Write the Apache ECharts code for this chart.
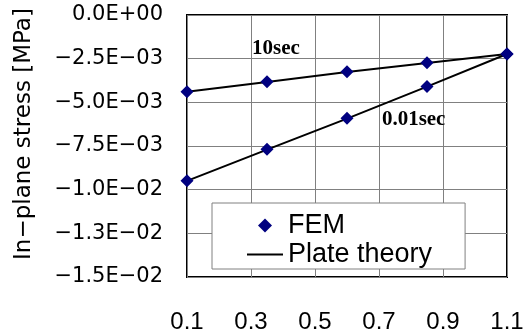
<!DOCTYPE html>
<html>
<head>
<meta charset="utf-8">
<script src="https://cdn.jsdelivr.net/npm/echarts@6/dist/echarts.min.js"></script>
<style>
html,body{margin:0;padding:0;background:#fff;}
#chart{width:527px;height:334px;}
</style>
</head>
<body>
<div id="chart"></div>
<script>
// ---- data ----
const xValues = [0.1, 0.35, 0.6, 0.85, 1.1];
const fem10sec = [-0.00439, -0.00382, -0.00325, -0.00273, -0.00223];
const fem001sec = [-0.00949, -0.00769, -0.00591, -0.00410, -0.00223];
const plate10sec = [-0.00440, -0.00383, -0.00326, -0.00275, -0.00223];
const plate001sec = [-0.00950, -0.00771, -0.00593, -0.00410, -0.00223];
const xTickValues = [0.1, 0.3, 0.5, 0.7, 0.9, 1.1];
const yTickLabels = ['0.0E+00', '\u22122.5E\u221203', '\u22125.0E\u221203', '\u22127.5E\u221203',
                     '\u22121.0E\u221202', '\u22121.3E\u221202', '\u22121.5E\u221202'];
const annotations = [
  {text: '10sec', x: 0.303, y: -0.00190},
  {text: '0.01sec', x: 0.709, y: -0.00601}
];

const zip = (xs, ys) => xs.map((x, i) => [x, ys[i]]);

const chart = echarts.init(document.getElementById('chart'));
const lineStyle = {color: '#000', width: 2, opacity: 1};
const markerColor = '#000080';

chart.setOption({
  animation: false,
  backgroundColor: '#fff',
  grid: {left: 187, right: 20, top: 15, bottom: 57, show: true, borderColor: '#000', borderWidth: 2, backgroundColor: 'transparent'},
  xAxis: {
    type: 'value', min: 0.1, max: 1.1,
    axisLine: {show: false},
    axisTick: {show: false, customValues: xTickValues},
    axisLabel: {customValues: xTickValues, margin: 33, color: '#000', fontFamily: 'Liberation Sans', fontSize: 24,
      formatter: v => v.toFixed(1)},
    splitLine: {show: true, lineStyle: {color: '#808080', width: 1}}
  },
  yAxis: {
    type: 'value', min: -0.015, max: 0, interval: 0.0025,
    name: 'In\u2212plane stress [MPa]',
    nameLocation: 'middle', nameGap: 151,
    nameTextStyle: {color: '#000', fontFamily: 'DejaVu Sans', fontSize: 23, padding: [0, 0, 0, 24]},
    axisLine: {show: false},
    axisTick: {show: false},
    axisLabel: {margin: 24, color: '#000', fontFamily: 'DejaVu Sans', fontSize: 21,
      formatter: v => yTickLabels[Math.round(-v / 0.0025)]},
    splitLine: {show: true, lineStyle: {color: '#808080', width: 1}}
  },
  legend: {
    orient: 'vertical', left: 212, top: 203,
    padding: [8, 33, 0, 35], itemGap: 0, itemWidth: 36, itemHeight: 14,
    symbolKeepAspect: true,
    backgroundColor: '#fff', borderColor: '#808080', borderWidth: 1, borderRadius: 0,
    textStyle: {color: '#000', fontFamily: 'Liberation Sans', fontSize: 27, lineHeight: 29},
    data: [
      {name: 'FEM', icon: 'path://M7,0L14,7L7,14L0,7Z', itemStyle: {color: markerColor, opacity: 1}},
      {name: 'Plate theory', icon: 'path://M0,0H36V2H0Z', itemStyle: {color: '#000', opacity: 1}}
    ]
  },
  series: [
    {name: 'Plate theory', type: 'line', data: zip(xValues, plate10sec), symbol: 'none', lineStyle: lineStyle, itemStyle: {color: '#000'}, z: 2},
    {name: 'Plate theory', type: 'line', data: zip(xValues, plate001sec), symbol: 'none', lineStyle: lineStyle, itemStyle: {color: '#000'}, z: 2},
    {name: 'FEM', type: 'scatter', data: zip(xValues, fem10sec), symbol: 'diamond', symbolSize: [13, 13], itemStyle: {color: markerColor, opacity: 1}, z: 3},
    {name: 'FEM', type: 'scatter', data: zip(xValues, fem001sec), symbol: 'diamond', symbolSize: [13, 13], itemStyle: {color: markerColor, opacity: 1}, z: 3},
    {name: 'annot', type: 'scatter', silent: true, symbolSize: 0, itemStyle: {opacity: 1},
      data: annotations.map(a => ({value: [a.x, a.y], label: {formatter: a.text}})),
      label: {show: true, position: 'right', distance: 0, color: '#000', opacity: 1,
        fontFamily: 'Liberation Serif', fontWeight: 'bold', fontSize: 21}, z: 4}
  ]
});
</script>
</body>
</html>
